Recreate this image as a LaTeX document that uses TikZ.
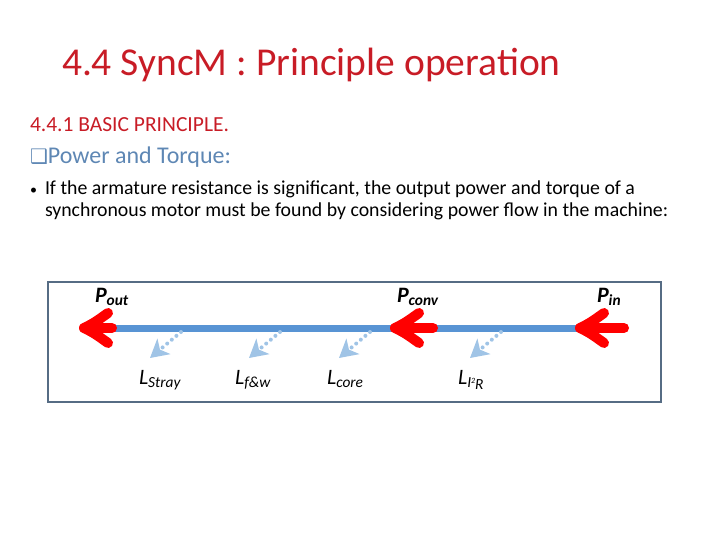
\documentclass[tikz,border=0pt]{standalone}
\usepackage{fontspec}
\setmainfont{Carlito}
\newfontfamily\symfont{DejaVu Sans}
\usetikzlibrary{arrows.meta}
\definecolor{titlered}{RGB}{200,28,38}
\definecolor{headblue}{RGB}{94,135,180}
\definecolor{framecol}{RGB}{86,108,132}
\definecolor{flowblue}{RGB}{88,148,212}
\definecolor{lossblue}{RGB}{160,196,230}
\definecolor{arrred}{RGB}{255,0,0}
\tikzset{
  txt/.style={anchor=base west, inner sep=0pt, outer sep=0pt},
  bodytxt/.style={txt, font=\fontsize{19.8}{23}\selectfont},
  plabel/.style={txt, font=\fontsize{22}{25}\selectfont\bfseries\itshape},
  llabel/.style={txt, font=\fontsize{22}{25}\selectfont\itshape},
  redarrow/.style={draw=arrred, line width=10pt, line cap=round, line join=round},
  lossline/.style={draw=lossblue, line width=4pt, line cap=round, dash pattern=on 0pt off 6pt, -{Stealth[length=18pt,width=20pt,inset=5pt,fill=lossblue]}},
}
\begin{document}
\begin{tikzpicture}[x=1pt,y=-1pt]
\useasboundingbox (0,0) rectangle (720,540);
% texts
\node[txt, text=titlered, font=\fontsize{39.5}{44}\selectfont] (title) at (62,76) {4.4 SyncM : Principle operation};
\node[txt, text=titlered, font=\fontsize{21.5}{26}\selectfont] (h1) at (30,132) {4.4.1 BASIC PRINCIPLE.};
\node[txt, text=headblue, font=\fontsize{24}{28}\selectfont] (h2) at (30,164) {{\symfont\fontsize{20}{22}\selectfont ❑}Power and Torque:};
\node[txt, font=\fontsize{14}{16}\selectfont] (bul) at (30,195) {•};
\node[bodytxt] (para1) at (45,195) {If the armature resistance is significant, the output power and torque of a};
\node[bodytxt] (para2) at (45,216) {synchronous motor must be found by considering power flow in the machine:};
% frame
\node[draw=framecol, line width=2pt, minimum width=613pt, minimum height=120pt, anchor=north west, inner sep=0pt] (frame) at (47,281) {};
% flow line
\coordinate (lineL) at (110,328);
\coordinate (lineR) at (582,328);
\draw[flowblue, line width=7pt] (lineL) -- (lineR);
% red arrows
\coordinate (tout) at (84,328);
\coordinate (tconv) at (395,328);
\coordinate (tin) at (580,328);
\foreach \t/\len in {tout/28, tconv/38, tin/44}{
  \draw[redarrow] (\t) -- ++(\len,0);
  \draw[redarrow] ([xshift=24pt,yshift=-15pt]\t) .. controls ([xshift=10pt,yshift=-5pt]\t) .. (\t) .. controls ([xshift=10pt,yshift=5pt]\t) .. ([xshift=24pt,yshift=15pt]\t);
}
% P labels
\node[plabel] (pout) at (95,302) {P\textsubscript{out}};
\node[plabel] (pconv) at (397,302) {P\textsubscript{conv}};
\node[plabel] (pin) at (597,302) {P\textsubscript{in}};
% loss arrows
\foreach \n/\x in {a/181, b/280, c/370, d/501}{
  \coordinate (s\n) at (\x,332);
  \coordinate (e\n) at (\x-31,358);
  \draw[lossline] (s\n) -- (e\n);
}
% loss labels
\node[llabel] (ls) at (139,384) {L\textsubscript{Stray}};
\node[llabel] (lf) at (235,384) {L\textsubscript{f\&w}};
\node[llabel] (lc) at (327,384) {L\textsubscript{core}};
\node[llabel] (li) at (458,384) {L\textsubscript{I\raisebox{0.5ex}{\footnotesize 2}\raisebox{-0.3ex}{R}}};
\end{tikzpicture}
\end{document}
